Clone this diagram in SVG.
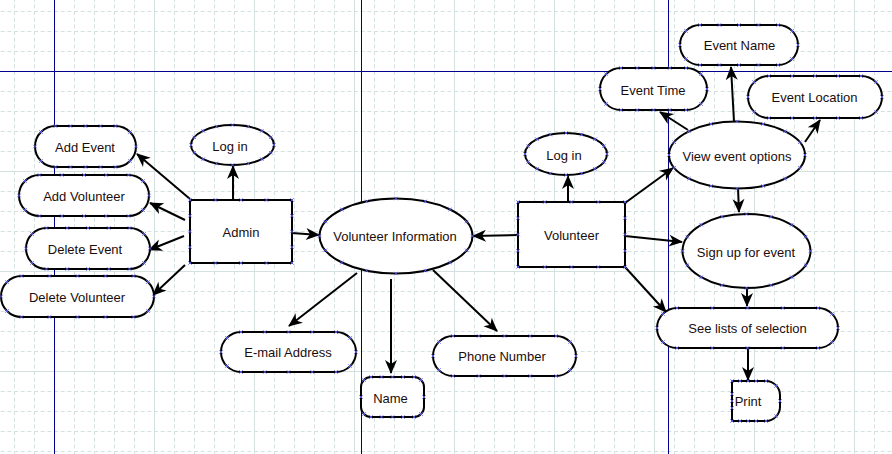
<svg xmlns="http://www.w3.org/2000/svg" width="892" height="454" viewBox="0 0 892 454">
<style>
.sh{fill:#fff;stroke:#000;stroke-width:2}
.t{font-family:"Liberation Sans",Arial,sans-serif;font-size:13px;fill:#1a0d0d;text-anchor:middle}
.cp{fill:none;stroke:none;marker-start:url(#x);marker-mid:url(#x);marker-end:url(#x)}
.c{fill:none;stroke:#000;stroke-width:2;marker-end:url(#arr)}
.bl{stroke:#00008b;stroke-width:1;fill:none}
</style>
<defs>
<pattern id="minor" patternUnits="userSpaceOnUse" x="14" y="11" width="20" height="20">
<path d="M0.5,0V20M0,0.5H20" stroke="#d3e1e1" stroke-width="1" stroke-dasharray="4,2.67" fill="none"/>
</pattern>
<pattern id="major" patternUnits="userSpaceOnUse" x="54" y="71" width="100" height="100">
<path d="M0.5,0V100M0,0.5H100" stroke="#d3e1e1" stroke-width="1" fill="none"/>
</pattern>
<marker id="x" markerUnits="userSpaceOnUse" markerWidth="6" markerHeight="6" viewBox="0 0 6 6" refX="3" refY="3" overflow="visible">
<path d="M1.3,1.3L4.7,4.7M4.7,1.3L1.3,4.7" stroke="#5c5cf0" stroke-width="0.9" fill="none"/>
</marker>
<marker id="arr" markerUnits="userSpaceOnUse" markerWidth="16" markerHeight="14" viewBox="-14 -7 16 14" refX="0" refY="0" orient="auto" overflow="visible">
<path d="M1,0L-13,-6L-9,0L-13,6Z" fill="#000"/>
</marker>
</defs>
<rect width="892" height="454" fill="#fff"/>
<rect width="892" height="454" fill="url(#minor)"/>
<rect width="892" height="454" fill="url(#major)"/>
<g id="guides">
<path class="bl" d="M54.5,0V454M361.5,0V454M668.5,0V454M0,71.5H892"/>
</g>
<g id="connectors">
<path class="c" d="M190,199L137,154"/>
<path class="c" d="M185,220L150,203"/>
<path class="c" d="M184,236L149,250"/>
<path class="c" d="M185,265L153,295"/>
<path class="c" d="M233,200V166"/>
<path class="c" d="M292,233L319,235"/>
<path class="c" d="M357,273L289,326"/>
<path class="c" d="M391,279V373"/>
<path class="c" d="M433,270L497,331"/>
<path class="c" d="M518,235L473,236"/>
<path class="c" d="M568,201V176"/>
<path class="c" d="M625,203L673,168"/>
<path class="c" d="M625,236L682,242"/>
<path class="c" d="M625,267L666,312"/>
<path class="c" d="M734,122L731,67"/>
<path class="c" d="M688,130L660,112"/>
<path class="c" d="M805,142L820,120"/>
<path class="c" d="M738,188L739,212"/>
<path class="c" d="M747,288V306"/>
<path class="c" d="M748,348V380"/>
</g>
<g id="add-event">
<rect class="sh" x="35" y="126" width="101" height="41" rx="20.5"/>
<path class="cp" d="M55.5,126L70.5,126L85.5,126L100.5,126L115.5,126L130,132L136,146.5L130,161L115.5,167L100.5,167L85.5,167L70.5,167L55.5,167L41,161L35,146.5L41,132"/>
<text class="t" x="85" y="151.5">Add Event</text>
</g>
<g id="add-volunteer">
<rect class="sh" x="19" y="175" width="130" height="41" rx="20.5"/>
<path class="cp" d="M39.5,175L61.75,175L84,175L106.25,175L128.5,175L143,181L149,195.5L143,210L128.5,216L106.25,216L84,216L61.75,216L39.5,216L25,210L19,195.5L25,181"/>
<text class="t" x="84" y="200.5">Add Volunteer</text>
</g>
<g id="delete-event">
<rect class="sh" x="26" y="228" width="124" height="41" rx="20.5"/>
<path class="cp" d="M46.5,228L67.25,228L88,228L108.75,228L129.5,228L144,234L150,248.5L144,263L129.5,269L108.75,269L88,269L67.25,269L46.5,269L32,263L26,248.5L32,234"/>
<text class="t" x="85" y="253.5">Delete Event</text>
</g>
<g id="delete-volunteer">
<rect class="sh" x="1" y="276" width="153" height="41" rx="20.5"/>
<path class="cp" d="M21.5,276L49.5,276L77.5,276L105.5,276L133.5,276L148,282L154,296.5L148,311L133.5,317L105.5,317L77.5,317L49.5,317L21.5,317L7,311L1,296.5L7,282"/>
<text class="t" x="77" y="301.5">Delete Volunteer</text>
</g>
<g id="admin">
<rect class="sh" x="190" y="200" width="102" height="63"/>
<path class="cp" d="M190,200L215.5,200L241,200L266.5,200L292,200L292,215.75L292,231.5L292,247.25L292,263L266.5,263L241,263L215.5,263L190,263L190,247.25L190,231.5L190,215.75"/>
<text class="t" x="241" y="237">Admin</text>
</g>
<g id="admin-login">
<ellipse class="sh" cx="232.5" cy="145" rx="41.5" ry="20"/>
<path class="cp" d="M274,145L270.8,152.7L261.8,159.1L248.4,163.5L232.5,165L216.6,163.5L203.2,159.1L194.2,152.7L191,145L194.2,137.3L203.2,130.9L216.6,126.5L232.5,125L248.4,126.5L261.8,130.9L270.8,137.3"/>
<text class="t" x="230" y="150.5">Log in</text>
</g>
<g id="volunteer-information">
<ellipse class="sh" cx="396" cy="236" rx="76.5" ry="37.5"/>
<path class="cp" d="M472.5,236L466.7,250.4L450.1,262.5L425.3,270.6L396,273.5L366.7,270.6L341.9,262.5L325.3,250.4L319.5,236L325.3,221.6L341.9,209.5L366.7,201.4L396,198.5L425.3,201.4L450.1,209.5L466.7,221.6"/>
<text class="t" x="395" y="241">Volunteer Information</text>
</g>
<g id="email-address">
<rect class="sh" x="221" y="332" width="135" height="40" rx="20"/>
<path class="cp" d="M241,332L264.75,332L288.5,332L312.25,332L336,332L350,338L356,352L350,366L336,372L312.25,372L288.5,372L264.75,372L241,372L227,366L221,352L227,338"/>
<text class="t" x="288" y="356.5">E-mail Address</text>
</g>
<g id="name">
<rect class="sh" x="361" y="377" width="63" height="40" rx="10"/>
<path class="cp" d="M371,377L381.5,377L392.5,377L403,377L414,377L421,380L424,397L421,414L414,417L403,417L392.5,417L381.5,417L371,417L364,414L361,397L364,380"/>
<text class="t" x="390.5" y="402.5">Name</text>
</g>
<g id="phone-number">
<rect class="sh" x="433" y="336" width="143" height="40" rx="20"/>
<path class="cp" d="M453,336L478.75,336L504.5,336L530.25,336L556,336L570,342L576,356L570,370L556,376L530.25,376L504.5,376L478.75,376L453,376L439,370L433,356L439,342"/>
<text class="t" x="502" y="361">Phone Number</text>
</g>
<g id="volunteer">
<rect class="sh" x="518" y="202" width="107" height="65"/>
<path class="cp" d="M518,202L544.75,202L571.5,202L598.25,202L625,202L625,218.25L625,234.5L625,250.75L625,267L598.25,267L571.5,267L544.75,267L518,267L518,250.75L518,234.5L518,218.25"/>
<text class="t" x="571.5" y="240">Volunteer</text>
</g>
<g id="volunteer-login">
<ellipse class="sh" cx="566" cy="154" rx="41" ry="21"/>
<path class="cp" d="M607,154L603.9,162L595,168.8L581.7,173.4L566,175L550.3,173.4L537,168.8L528.1,162L525,154L528.1,146L537,139.2L550.3,134.6L566,133L581.7,134.6L595,139.2L603.9,146"/>
<text class="t" x="564" y="159.5">Log in</text>
</g>
<g id="view-event-options">
<ellipse class="sh" cx="737" cy="155" rx="68" ry="33.5"/>
<path class="cp" d="M805,155L799.8,167.8L785.1,178.7L763,186L737,188.5L711,186L688.9,178.7L674.2,167.8L669,155L674.2,142.2L688.9,131.3L711,124L737,121.5L763,124L785.1,131.3L799.8,142.2"/>
<text class="t" x="737" y="160.5">View event options</text>
</g>
<g id="event-name">
<rect class="sh" x="680" y="25" width="118" height="40" rx="20"/>
<path class="cp" d="M700,25L719.5,25L739,25L758.5,25L778,25L792,31L798,45L792,59L778,65L758.5,65L739,65L719.5,65L700,65L686,59L680,45L686,31"/>
<text class="t" x="739.5" y="50">Event Name</text>
</g>
<g id="event-time">
<rect class="sh" x="600" y="68" width="107" height="42" rx="21"/>
<path class="cp" d="M621,68L637.25,68L653.5,68L669.75,68L686,68L701,74L707,89L701,104L686,110L669.75,110L653.5,110L637.25,110L621,110L606,104L600,89L606,74"/>
<text class="t" x="653" y="94.5">Event Time</text>
</g>
<g id="event-location">
<rect class="sh" x="748" y="76" width="134" height="42" rx="21"/>
<path class="cp" d="M769,76L792,76L815,76L838,76L861,76L876,82L882,97L876,112L861,118L838,118L815,118L792,118L769,118L754,112L748,97L754,82"/>
<text class="t" x="814.5" y="102">Event Location</text>
</g>
<g id="sign-up-for-event">
<ellipse class="sh" cx="746.5" cy="251" rx="64" ry="37"/>
<path class="cp" d="M810.5,251L805.6,265.2L791.7,277.2L771,285.2L746.5,288L722,285.2L701.3,277.2L687.4,265.2L682.5,251L687.4,236.8L701.3,224.8L722,216.8L746.5,214L771,216.8L791.7,224.8L805.6,236.8"/>
<text class="t" x="746" y="256.5">Sign up for event</text>
</g>
<g id="see-lists-of-selection">
<rect class="sh" x="657" y="308" width="181" height="40" rx="20"/>
<path class="cp" d="M677,308L712.25,308L747.5,308L782.75,308L818,308L832,314L838,328L832,342L818,348L782.75,348L747.5,348L712.25,348L677,348L663,342L657,328L663,314"/>
<text class="t" x="747.5" y="332.5">See lists of selection</text>
</g>
<g id="print">
<path class="sh" d="M732,381H766C774,381 780,388 780,395V407C780,414 774,421 766,421H732Z"/>
<path class="cp" d="M732,381L740,381L748,381L756,381L766,381L776,386L780,401L776,416L766,421L756,421L748,421L740,421L732,421L732,408L732,401L732,394"/>
<text class="t" x="748" y="406">Print</text>
</g>
</svg>
